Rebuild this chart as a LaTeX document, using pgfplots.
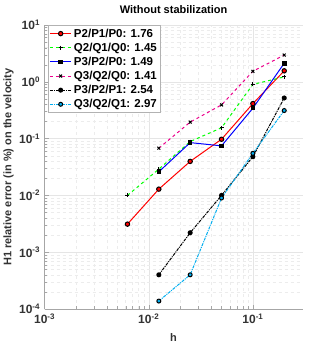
\documentclass[border=0pt]{standalone}
\usepackage{fontspec}
\setmainfont{Liberation Sans}
\usepackage{pgfplots}
\pgfplotsset{compat=1.18}

\begin{document}
\begin{tikzpicture}
\path (-44pt,-39pt) rectangle (285pt,309pt);
\begin{axis}[
  scale only axis, width=258pt, height=284pt,
  xmode=log, ymode=log,
  xmin=1e-3, xmax=0.3, ymin=1e-4, ymax=10,
  axis x line*=bottom, axis y line*=left,
  axis line style={gray!70, line width=0.6pt},
  tick style={gray!70},
  tick align=inside,
  grid=both,
  major grid style={gray!20, line width=0.4pt},
  minor grid style={gray!15, dashed, line width=0.3pt},
  font=\bfseries,
  tick label style={font=\fontsize{12}{13}\selectfont\bfseries, text=black!80},
  xticklabel style={yshift=-1.5pt},
  yticklabel style={xshift=-1pt},
  xtick={1e-3,1e-2,1e-1},
  xticklabels={10\textsuperscript{-3},10\textsuperscript{-2},10\textsuperscript{-1}},
  ytick={1e-4,1e-3,1e-2,1e-1,1,10},
  yticklabels={10\textsuperscript{-4},10\textsuperscript{-3},10\textsuperscript{-2},10\textsuperscript{-1},10\textsuperscript{0},10\textsuperscript{1}},
  title={Without stabilization},
  title style={font=\fontsize{11}{12}\selectfont\bfseries, at={(0.5,1)}, anchor=south, yshift=2pt},
  xlabel={h}, ylabel={H1 relative error (in \%) on the velocity},
  label style={font=\fontsize{11}{12}\selectfont\bfseries, text=black!80},
  xlabel style={at={(axis description cs:0.5,0)}, anchor=center, yshift=-29pt},
  ylabel style={at={(axis description cs:-0.14,0.5)}, anchor=center},
  legend style={at={(0.012,1)}, anchor=north west, font=\fontsize{11.5}{13}\selectfont\bfseries,
    draw=gray!60, fill=white, inner sep=1.5pt, row sep=0.3pt},
  legend cell align=left,
  legend image code/.code={\draw[mark repeat=2,mark phase=2] plot coordinates {(0cm,0cm) (0.38cm,0cm) (0.76cm,0cm)};},
]
\addplot[red, line width=1pt, mark=*, mark size=2.2pt, mark options={solid, draw=black, fill=red}]
  coordinates {(0.00625,0.00312) (0.0125,0.0129) (0.025,0.0397) (0.05,0.0974) (0.1,0.413) (0.2,1.56)};
\addlegendentry{P2/P1/P0: 1.76}
\addplot[green, line width=1pt, dashed, mark=+, mark size=2pt, mark options={solid, draw=black}]
  coordinates {(0.00625,0.0100) (0.0125,0.0290) (0.025,0.0887) (0.05,0.155) (0.1,0.90) (0.2,1.22)};
\addlegendentry{Q2/Q1/Q0: 1.45}
\addplot[blue, line width=1pt, mark=square*, mark size=1.8pt, mark options={solid, draw=black, fill=black}]
  coordinates {(0.0125,0.0260) (0.025,0.0850) (0.05,0.0745) (0.1,0.343) (0.2,2.12)};
\addlegendentry{P3/P2/P0: 1.49}
\addplot[magenta, line width=1pt, dashed, mark=x, mark size=2pt, mark options={solid, draw=black}]
  coordinates {(0.0125,0.0678) (0.025,0.195) (0.05,0.392) (0.1,1.53) (0.2,2.96)};
\addlegendentry{Q3/Q2/Q0: 1.41}
\addplot[black, line width=1pt, dash pattern=on 3pt off 1pt on 1pt off 1pt, mark=*, mark size=2pt, mark options={solid, draw=black, fill=black}]
  coordinates {(0.0125,0.00040) (0.025,0.0022) (0.05,0.0100) (0.1,0.048) (0.2,0.519)};
\addlegendentry{P3/P2/P1: 2.54}
\addplot[cyan, line width=1pt, dash pattern=on 3pt off 1pt on 1pt off 1pt, mark=*, mark size=2pt, mark options={solid, draw=black, fill=cyan}]
  coordinates {(0.0125,0.000138) (0.025,0.00040) (0.05,0.0090) (0.1,0.055) (0.2,0.312)};
\addlegendentry{Q3/Q2/Q1: 2.97}
\end{axis}
\end{tikzpicture}
\end{document}
